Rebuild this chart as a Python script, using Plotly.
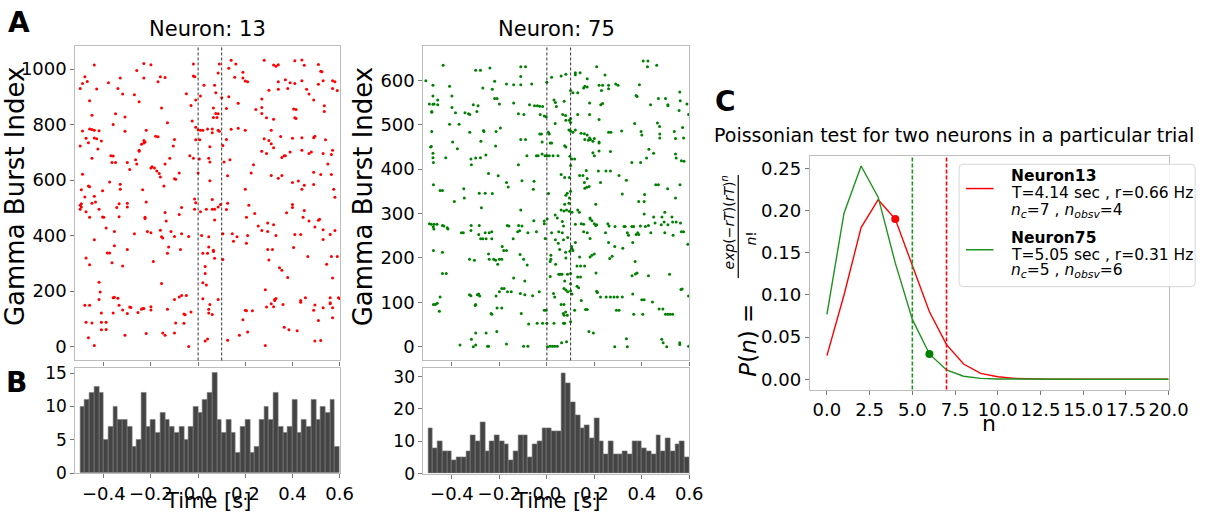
import plotly.graph_objects as go

W, H = 1224, 521
FONT = "DejaVu Sans"

# ---------------- Panel A: gamma-burst-locked spike rasters (time [s], burst index) ----------------
neuron13_spikes = [
    (-0.44,1015),(-0.23,1020),(-0.20,1016),(-0.26,995),(-0.02,1018),(0.09,1018),(0.14,1032),(0.16,1018),
    (0.28,1032),(0.32,1015),(0.33,1010),(0.34,1016),(0.41,1030),(0.44,1033),(0.45,1014),(0.51,1017),
    (0.52,992),(0.525,990),(0.13,1003),(0.085,986),(0.19,989),(-0.48,972),(-0.33,968),(-0.23,968),
    (-0.16,972),(-0.14,970),(-0.02,975),(-0.014,972),(0.155,971),(0.19,968),(0.20,957),(0.21,954),
    (0.37,962),(0.39,951),(0.41,948),(0.44,958),(0.53,958),(0.57,958),(0.58,954),(-0.47,955),
    (-0.49,948),(-0.38,951),(-0.17,954),(0.34,954),
    (-0.50,930),(-0.43,928),(-0.34,930),(0.025,942),(0.07,942),(0.075,915),(0.30,924),(0.34,927),
    (0.38,930),(0.46,927),(0.51,945),(0.57,930),(0.59,923),(-0.32,910),(-0.27,908),(-0.05,911),
    (0.01,903),(0.10,897),(0.13,900),(0.27,892),(0.47,910),(0.49,889),(-0.46,886),(-0.25,882),
    (-0.01,889),(0.17,877),(0.535,868),(0.535,847),(-0.155,860),(-0.03,869),(0.065,860),(0.12,858),
    (0.245,854),(0.27,862),(0.405,856),(0.415,854),(-0.35,839),(-0.45,834),(-0.31,827),(-0.025,813),
    (0.075,840),(0.085,839),(0.065,826),(0.08,826),(0.27,840),(0.29,825),(0.32,819),(0.41,825),
    (0.415,822),(-0.36,800),(-0.01,790),(-0.13,807),
    (-0.49,777),(-0.44,780),(-0.46,784),(-0.45,782),(-0.42,778),(-0.31,776),(-0.22,780),(0.0,781),
    (0.01,780),(0.02,780),(0.04,784),(0.06,784),(0.06,771),(0.085,780),(0.09,776),(0.14,783),
    (0.17,787),(0.20,780),(0.31,780),(-0.475,751),(-0.44,752),(-0.43,749),(-0.41,741),(-0.18,758),
    (-0.17,756),(-0.10,746),(0.12,746),(0.28,749),(0.35,757),(0.40,751),(0.44,753),(0.49,753),
    (0.495,758),(0.54,745),(-0.01,745),(0.007,745),(-0.50,723),(-0.465,735),(-0.425,712),(-0.23,743),
    (-0.225,737),(-0.23,734),(-0.24,729),(-0.25,708),(-0.105,723),(0.05,720),(0.105,725),(0.30,743),
    (0.31,731),(0.27,704),(0.29,696),(0.32,717),(0.39,701),(0.44,708),(0.47,696),(0.48,701),
    (0.53,696),(0.57,708),(0.365,688),(-0.37,688),(-0.36,687),(-0.035,688),(-0.02,679),(0.005,676),
    (-0.45,679),(-0.25,704),
    (-0.365,663),(-0.35,663),(-0.30,663),(-0.265,673),(-0.26,658),(-0.12,679),(0.045,679),(0.05,665),
    (0.11,665),(0.135,673),(0.37,688),(0.355,681),(0.565,692),(0.55,658),(0.235,655),(-0.49,621),
    (-0.29,638),(-0.20,644),(-0.195,648),(-0.185,644),(-0.175,633),(-0.165,624),(-0.16,611),(-0.145,579),
    (-0.14,658),(-0.08,626),(-0.10,605),(-0.095,603),(0.0,626),(0.05,598),(0.125,616),(0.225,626),
    (0.31,617),(0.34,607),(0.355,617),(0.40,591),(0.425,597),(0.44,567),(0.45,581),(0.49,628),
    (0.49,584),(0.52,620),(0.565,620),(0.58,538),(0.575,567),(-0.495,565),(-0.465,579),(-0.46,576),
    (-0.405,562),(-0.375,593),(-0.33,585),(-0.33,567),(-0.235,565),(0.20,567),
    (-0.48,539),(-0.44,542),(-0.435,521),(-0.45,517),(-0.495,515),(-0.50,509),(-0.495,503),(-0.50,495),
    (-0.42,495),(-0.475,486),(-0.46,466),(-0.405,467),(-0.40,466),(-0.39,427),(-0.355,415),(-0.335,515),
    (-0.345,501),(-0.335,468),(-0.30,517),(-0.30,503),(-0.22,521),(-0.225,466),(-0.225,462),(-0.14,483),
    (-0.135,453),(-0.08,476),(-0.07,501),(-0.015,532),(-0.015,495),(-0.01,518),(0.01,486),(0.035,495),
    (0.06,495),(0.06,530),(0.07,456),(0.07,495),(0.085,503),(0.095,512),(0.12,494),(0.125,517),
    (0.215,509),(0.205,466),(0.24,480),(0.255,435),(0.27,418),(0.295,445),(0.32,439),(0.375,482),
    (0.40,512),(0.40,501),(0.445,466),(0.45,490),(0.47,453),(0.51,455),(0.515,459),(0.56,404),
    (0.58,418),(0.495,431),(0.53,421),(0.53,386),(0.435,404),(0.41,404),(-0.27,407),(-0.215,415),
    (-0.20,410),(-0.16,419),(-0.155,396),(-0.15,391),(-0.115,415),(-0.10,397),(-0.07,407),(-0.04,397),
    (0.015,400),(0.045,396),(0.105,407),(0.145,407),(0.15,380),(0.165,396),(0.21,400),(0.33,400),
    (0.295,415),
    (-0.44,385),(-0.355,363),(-0.385,337),(-0.375,337),(-0.365,302),(-0.32,290),(-0.30,350),(-0.19,307),
    (-0.125,359),(-0.13,336),(-0.075,350),(-0.475,319),(-0.46,295),(0.02,336),(0.03,289),(0.045,359),
    (0.065,347),(0.065,343),(0.04,336),(0.07,318),(0.105,314),(0.03,263),(0.205,372),(0.295,350),
    (0.315,350),(0.345,284),(0.355,275),(0.38,249),(0.405,357),(0.465,325),(0.545,297),(0.565,325),
    (0.59,325),(0.57,247),(0.30,312),
    (-0.42,232),(-0.415,197),(-0.42,170),(-0.48,149),(-0.46,149),(-0.41,121),(-0.355,178),(-0.36,176),
    (-0.34,174),(-0.29,143),(-0.285,141),(-0.335,149),(-0.36,121),(-0.32,132),(-0.30,119),(-0.255,123),
    (-0.24,135),(-0.235,137),(-0.23,137),(-0.20,144),(-0.20,132),(-0.155,227),(-0.13,135),(-0.10,170),
    (-0.08,179),(-0.07,184),(-0.05,184),(-0.06,117),(-0.055,115),(-0.03,125),(0.02,230),(0.035,222),
    (0.02,172),(0.05,152),(0.045,135),(0.045,121),(0.06,116),(0.085,170),(0.20,131),(0.205,129),
    (0.23,129),(0.285,205),(0.29,143),(0.31,154),(0.32,144),(0.325,170),(0.33,173),(0.325,166),
    (0.36,152),(0.435,166),(0.435,160),(0.455,176),(0.49,131),(0.495,150),(0.53,140),(0.56,176),
    (0.56,158),(0.56,154),(0.57,140),(0.595,176),(0.60,173),
    (-0.475,88),(-0.45,85),(-0.41,88),(-0.39,88),(-0.41,61),(-0.39,62),(-0.465,32),(-0.44,4),
    (-0.31,41),(-0.22,47),(-0.15,49),(-0.14,41),(-0.10,49),(-0.095,85),(-0.06,84),(-0.04,0),
    (0.03,20),(0.04,27),(0.125,23),(0.19,97),(0.175,41),(0.21,53),(0.285,4),(0.365,70),
    (0.385,61),(0.42,57),(0.495,20),(0.52,22),(0.51,94),(0.57,104),
]

neuron75_spikes = [
    (-0.437,634),(0.406,644),(0.426,644),(0.424,631),(0.463,634),(-0.30,623),(-0.28,623),(-0.24,628),
    (-0.11,631),(-0.09,631),(-0.11,609),(0.21,631),(0.245,612),(0.02,607),(0.06,610),(0.08,614),
    (0.12,617),(0.14,617),(0.12,613),(0.17,604),(-0.51,599),(-0.48,589),(-0.41,587),(-0.22,598),
    (-0.17,592),(-0.14,590),(-0.11,590),(-0.064,592),(0.0,596),(0.16,587),(0.155,583),(0.17,585),
    (0.22,589),(0.235,589),(0.26,589),(0.26,581),(0.23,577),(0.29,592),(0.30,589),(0.39,590),
    (-0.48,565),(-0.40,565),(-0.27,583),(-0.23,580),(-0.22,559),(-0.21,559),(0.10,577),(0.11,572),
    (0.13,572),(0.56,574),(0.38,564),(0.47,559),(0.50,559),
    (-0.495,547),(-0.48,546),(-0.475,547),(-0.46,556),(-0.46,545),(-0.485,530),(-0.485,528),(-0.40,539),
    (-0.385,527),(-0.345,527),(-0.33,525),(-0.325,523),(-0.31,545),(-0.29,543),(-0.295,530),(-0.20,547),
    (-0.14,549),(-0.12,525),(-0.097,523),(-0.073,545),(-0.052,543),(-0.04,543),(-0.03,542),(-0.018,541),
    (-0.028,523),(-0.011,520),(-0.003,518),(0.03,556),(0.036,550),(0.04,541),(0.073,553),(0.067,523),
    (0.079,521),(0.08,510),(0.095,510),(0.10,514),(0.10,505),(0.13,523),(0.18,549),(0.18,523),
    (0.22,512),(0.227,545),(0.235,548),(0.376,566),(0.37,503),(0.437,545),(0.51,545),(0.51,543),
    (0.59,547),(0.557,532),(0.562,554),(0.597,523),(0.466,504),(-0.41,501),(-0.37,501),(-0.485,485),
    (-0.325,483),(-0.267,487),(-0.265,485),(-0.214,485),(-0.196,493),(-0.09,467),(-0.11,467),(-0.03,479),
    (-0.023,479),(0.006,483),(0.01,479),(0.035,503),(0.093,488),(0.10,486),(0.11,483),(0.12,488),
    (0.144,481),(0.158,480),(0.17,477),(0.18,470),(0.20,469),(0.16,467),(0.175,465),(0.184,467),
    (0.194,463),(0.22,459),(0.26,483),(0.27,483),(0.315,486),(0.397,485),(0.40,477),(0.475,496),
    (0.476,479),(0.476,470),(0.537,485),(0.542,469),(0.572,494),(0.576,470),
    (-0.49,450),(-0.487,451),(-0.397,461),(-0.377,446),(-0.278,463),(-0.216,452),(-0.02,461),(0.014,459),
    (0.02,459),(0.075,453),(0.08,450),(0.22,461),(0.43,445),(-0.48,436),(-0.48,426),(-0.478,415),
    (-0.426,426),(-0.32,423),(-0.318,410),(-0.30,425),(-0.28,426),(-0.257,432),(-0.12,410),(-0.084,430),
    (-0.044,430),(-0.037,430),(-0.02,434),(-0.008,430),(0.0,430),(0.01,430),(0.026,430),(0.047,430),
    (0.097,429),(0.105,423),(0.117,423),(0.10,408),(0.194,437),(0.20,430),(0.22,441),(0.268,440),
    (0.358,415),(0.395,415),(0.42,425),(0.45,436),(0.542,434),(0.545,425),(0.578,418),(-0.478,365),
    (-0.45,352),(-0.44,352),(-0.246,390),(-0.205,385),(-0.17,370),(-0.163,360),(-0.105,374),(-0.054,373),
    (-0.057,355),(0.06,388),(0.075,381),(0.095,381),(0.166,397),(0.138,386),(0.152,386),(0.17,379),
    (0.158,370),(0.168,359),(0.16,357),(0.178,361),(0.217,396),(0.226,370),(0.249,396),(0.268,396),
    (0.304,386),(0.335,375),(0.459,365),(0.47,365),(0.509,356),(0.561,365),(0.567,419),
    (-0.39,327),(-0.35,356),(-0.348,335),(-0.285,346),(-0.26,346),(-0.23,345),(-0.276,313),(-0.11,308),
    (0.007,345),(0.08,341),(0.086,346),(0.095,335),(0.10,350),(0.093,323),(0.075,321),(0.083,308),
    (0.06,308),(0.072,306),(0.095,305),(0.106,303),(0.13,308),(0.137,303),(0.206,321),(0.318,344),
    (0.387,327),(0.41,327),(0.412,343),(0.542,335),(0.497,303),(0.41,299),(0.45,292),(0.485,292),
    (0.527,292),(0.035,297),(0.044,290),(0.001,288),(-0.011,283),(0.182,290),(0.19,284),(-0.495,277),
    (-0.487,276),(-0.475,276),(-0.479,270),(-0.463,276),(-0.44,273),(-0.434,272),(-0.42,268),(-0.319,273),
    (-0.285,273),(-0.167,273),(-0.16,272),(-0.119,273),(-0.105,272),(-0.055,284),(-0.011,277),(0.065,282),
    (0.07,272),(0.12,276),(0.145,277),(0.155,276),(0.182,288),(0.20,277),(0.206,273),(0.21,275),
    (0.257,277),(0.262,272),(0.287,271),(0.325,271),(0.33,271),(0.358,271),(0.366,271),(0.394,272),
    (0.415,271),(0.428,273),(0.456,279),(0.482,275),(0.494,281),(0.51,275),(0.53,281),(0.545,281),
    (0.563,279),(0.567,259),(0.576,259),
    (-0.476,265),(-0.417,265),(-0.36,257),(-0.352,257),(-0.32,262),(-0.287,253),(-0.26,257),(-0.243,257),
    (-0.232,259),(-0.279,243),(-0.27,243),(-0.256,243),(-0.232,243),(-0.142,243),(-0.123,259),(-0.115,261),
    (-0.08,257),(-0.044,259),(0.02,257),(0.036,241),(-0.007,244),(0.05,259),(0.065,257),(0.07,241),
    (0.048,233),(0.088,246),(0.104,226),(0.11,217),(0.106,221),(0.12,235),(0.155,259),(0.17,257),
    (0.182,244),(0.247,257),(0.26,235),(0.286,226),(0.32,222),(0.339,257),(0.344,251),(0.376,253),
    (0.383,257),(0.387,253),(0.438,257),(0.497,257),(0.532,251),(0.594,231),(0.362,235),(-0.478,217),
    (-0.44,213),(-0.182,217),(-0.17,217),(-0.188,226),(-0.246,209),(0.017,206),(0.054,219),(0.079,213),
    (0.097,215),
    (-0.326,197),(-0.305,195),(-0.243,197),(-0.224,197),(-0.216,195),(-0.20,197),(-0.207,186),(-0.19,197),
    (-0.113,208),(-0.098,197),(-0.083,184),(0.017,197),(0.014,192),(0.037,186),(0.08,200),(0.127,182),
    (0.142,182),(0.159,182),(0.138,202),(0.182,202),(0.19,206),(0.20,209),(0.265,199),(0.275,204),
    (0.372,192),(-0.44,165),(-0.424,165),(-0.14,155),(-0.093,148),(0.014,158),(0.05,163),(0.056,163),
    (0.064,163),(0.087,163),(0.10,165),(0.075,148),(0.10,142),(0.13,157),(0.142,157),(0.127,136),
    (0.207,166),(0.359,160),(0.373,164),(0.38,166),(0.428,160),(0.517,163),(-0.326,117),(-0.32,115),
    (-0.293,117),(-0.287,119),(-0.302,93),(-0.283,114),(-0.214,114),(-0.20,124),(-0.19,131),(-0.18,131),
    (-0.166,124),(-0.15,124),(-0.112,120),(-0.093,117),(-0.06,115),(-0.032,124),(0.028,120),(0.033,112),
    (0.072,131),(0.08,128),(0.088,124),(0.10,126),(0.106,119),(0.145,104),(0.134,133),(0.21,125),
    (0.213,122),(0.226,112),(0.25,112),(0.268,112),(0.283,112),(0.297,112),(0.318,112),(0.362,119),
    (0.40,106),(0.41,106),(0.445,101),(0.57,130),(0.597,114),
    (-0.478,95),(-0.47,95),(-0.462,98),(-0.453,80),(-0.45,112),(-0.30,95),(-0.235,75),(-0.232,73),
    (-0.21,87),(-0.19,87),(-0.108,75),(-0.041,53),(-0.018,53),(-0.011,82),(-0.003,82),(0.0,53),
    (0.03,53),(0.06,95),(0.072,95),(0.069,75),(0.079,78),(0.073,71),(0.07,53),(0.075,53),
    (0.086,71),(0.10,56),(0.117,82),(0.163,84),(0.17,84),(0.293,82),(0.304,82),(0.366,73),
    (0.404,73),(0.473,85),(0.489,85),(0.50,73),(0.51,73),(0.52,73),(0.53,73),(0.565,129),
    (-0.077,51),(0.177,34),(0.196,31),(-0.318,17),(-0.30,31),(-0.30,4),(-0.31,0),(-0.256,31),
    (-0.25,1),(-0.246,1),(-0.211,34),(-0.17,6),(-0.366,4),(-0.098,1),(-0.08,1),(0.014,1),
    (0.024,1),(0.033,1),(0.044,1),(0.062,9),(0.083,11),(0.286,0),(0.335,18),(0.339,0),
    (0.484,17),(0.49,9),(0.505,0),(0.56,9),(0.56,5),(0.597,1),(0.003,0),
]

# ---------------- Panel B: peri-burst spike counts (20 ms bins from -0.5 s to 0.6 s) ----------------
bin_start, bin_width = -0.5, 0.02
counts13 = [10, 11, 12, 13, 12, 5, 7, 10, 8, 8, 7, 4, 5, 12, 7, 8, 6, 9, 8, 7, 6, 7, 5, 7, 10,
            9, 11, 12, 15, 8, 6, 8, 6, 3, 7, 8, 3, 4, 8, 10, 8, 12, 7, 6, 7, 11, 6, 8, 7, 11,
            8, 10, 9, 11, 4]
counts75 = [14, 8, 10, 7, 7, 4, 5, 5, 7, 12, 10, 16, 7, 10, 12, 10, 9, 4, 7, 12, 12, 5, 9, 10, 14,
            14, 13, 13, 31, 28, 22, 18, 14, 15, 11, 17, 10, 6, 10, 6, 6, 7, 6, 10, 10, 8, 7, 6, 12, 7,
            11, 7, 9, 10, 5]
bin_centers = [bin_start + bin_width * (i + 0.5) for i in range(len(counts13))]

# stimulus-window markers on the rasters [s]
window_edges = [0.0, 0.1]

# ---------------- Panel C: Poisson probabilities P(n) ----------------
n_values = list(range(21))
p_neuron13 = [0.028, 0.100, 0.180, 0.213, 0.190, 0.135, 0.080, 0.041, 0.018, 0.007, 0.003,
              0.001, 0.0003, 0.0001, 0, 0, 0, 0, 0, 0, 0]
p_neuron75 = [0.077, 0.197, 0.253, 0.216, 0.138, 0.071, 0.030, 0.011, 0.0035, 0.001, 0.0003,
              0.0001, 0, 0, 0, 0, 0, 0, 0, 0, 0]
nc13, nobs13 = 7, 4
nc75, nobs75 = 5, 6
legend_lines13 = ["<b>Neuron13</b>", "T=4.14 sec , r=0.66 Hz",
                  "<i>n</i><sub><i>c</i></sub>=7 , <i>n</i><sub><i>obsv</i></sub>=4"]
legend_lines75 = ["<b>Neuron75</b>", "T=5.05 sec , r=0.31 Hz",
                  "<i>n</i><sub><i>c</i></sub>=5 , <i>n</i><sub><i>obsv</i></sub>=6"]

RED = "#ff0000"
GREEN = "#008000"
LINE_GREEN = "#1f921f"
FRAME = "#bdbdbd"
TICKC = "#777777"


def px(x):
    return x / W


def py(y):
    return 1 - y / H


fig = go.Figure()

# rasters
for spikes, color, xa, ya in [(neuron13_spikes, RED, "x", "y"), (neuron75_spikes, GREEN, "x3", "y3")]:
    fig.add_trace(go.Scatter(
        x=[s[0] for s in spikes], y=[s[1] for s in spikes], mode="markers",
        marker=dict(color=color, size=3.0, line=dict(width=0)),
        xaxis=xa, yaxis=ya, showlegend=False, hoverinfo="skip"))

# histograms
for counts, xa, ya in [(counts13, "x2", "y2"), (counts75, "x4", "y4")]:
    fig.add_trace(go.Bar(
        x=bin_centers, y=counts, width=bin_width,
        marker=dict(color="#444444", line=dict(color="#7a7a7a", width=0.6)),
        xaxis=xa, yaxis=ya, showlegend=False, hoverinfo="skip"))

# Poisson curves
fig.add_trace(go.Scatter(x=n_values, y=p_neuron13, mode="lines", line=dict(color=RED, width=1.4),
                         xaxis="x5", yaxis="y5", showlegend=False))
fig.add_trace(go.Scatter(x=n_values, y=p_neuron75, mode="lines", line=dict(color=LINE_GREEN, width=1.4),
                         xaxis="x5", yaxis="y5", showlegend=False))
# observed counts
fig.add_trace(go.Scatter(x=[nobs13], y=[p_neuron13[nobs13]], mode="markers",
                         marker=dict(color=RED, size=8), xaxis="x5", yaxis="y5", showlegend=False))
fig.add_trace(go.Scatter(x=[nobs75], y=[p_neuron75[nobs75]], mode="markers",
                         marker=dict(color=GREEN, size=8), xaxis="x5", yaxis="y5", showlegend=False))

shapes = []
for xa, ya in [("x", "y"), ("x3", "y3")]:
    for t in window_edges:
        shapes.append(dict(type="line", xref=xa, yref=f"{ya} domain", x0=t, x1=t, y0=0, y1=1,
                           line=dict(color="#333333", width=1, dash="3px,2px")))
shapes.append(dict(type="line", xref="x5", yref="y5 domain", x0=nc75, x1=nc75, y0=0, y1=1,
                   line=dict(color=LINE_GREEN, width=1.6, dash="4px,2px")))
shapes.append(dict(type="line", xref="x5", yref="y5 domain", x0=nc13, x1=nc13, y0=0, y1=1,
                   line=dict(color=RED, width=1.6, dash="4px,2px")))
# fraction bar of the P(n) axis label
shapes.append(dict(type="line", xref="paper", yref="paper", x0=px(750.5), x1=px(750.5),
                   y0=py(281), y1=py(175), line=dict(color="black", width=1.2)))

# legend box (rounded) with line keys
lx0, lx1, ly0, ly1, r = 975, 1215, 164, 290, 4
box_path = (f"M {px(lx0 + r)},{py(ly0)} L {px(lx1 - r)},{py(ly0)} Q {px(lx1)},{py(ly0)} {px(lx1)},{py(ly0 + r)} "
            f"L {px(lx1)},{py(ly1 - r)} Q {px(lx1)},{py(ly1)} {px(lx1 - r)},{py(ly1)} "
            f"L {px(lx0 + r)},{py(ly1)} Q {px(lx0)},{py(ly1)} {px(lx0)},{py(ly1 - r)} "
            f"L {px(lx0)},{py(ly0 + r)} Q {px(lx0)},{py(ly0)} {px(lx0 + r)},{py(ly0)} Z")
shapes.append(dict(type="path", path=box_path, xref="paper", yref="paper", layer="above",
                   fillcolor="rgba(255,255,255,0.85)", line=dict(color="#d6d6d6", width=1)))
shapes.append(dict(type="line", xref="paper", yref="paper", x0=px(982), x1=px(1010), y0=py(189), y1=py(189),
                   layer="above", line=dict(color=RED, width=1.5)))
shapes.append(dict(type="line", xref="paper", yref="paper", x0=px(982), x1=px(1010), y0=py(252), y1=py(252),
                   layer="above", line=dict(color=LINE_GREEN, width=1.5)))


def axis_common(**kw):
    d = dict(showline=True, mirror=True, linecolor=FRAME, linewidth=1.2, showgrid=False,
             zeroline=False, ticks="outside", ticklen=4, tickwidth=1, tickcolor=TICKC,
             tickfont=dict(family=FONT, size=18, color="black"))
    d.update(kw)
    return d


t_ticks = [-0.4, -0.2, 0.0, 0.2, 0.4, 0.6]
t_text = ["\u22120.4", "\u22120.2", "0.0", "0.2", "0.4", "0.6"]

layout = dict(
    width=W, height=H, margin=dict(l=0, r=0, t=0, b=0, pad=0), autosize=False,
    paper_bgcolor="white", plot_bgcolor="white",
    font=dict(family=FONT, color="black"),
    bargap=0, shapes=shapes, showlegend=False,
    xaxis=axis_common(domain=[px(76.7), px(346)], range=[-0.52, 0.603], tickvals=t_ticks,
                      showticklabels=False, anchor="y"),
    yaxis=axis_common(domain=[py(366), py(42)], range=[-50, 1084], tickvals=[0, 200, 400, 600, 800, 1000],
                      anchor="x"),
    xaxis2=axis_common(domain=[px(76.7), px(346)], range=[-0.52, 0.603], tickvals=t_ticks, ticktext=t_text,
                       anchor="y2", ticklabelstandoff=0),
    yaxis2=axis_common(domain=[py(482), py(373.5)], range=[0, 15.8], tickvals=[0, 5, 10, 15],
                       anchor="x2", tickfont=dict(family=FONT, size=17)),
    xaxis3=axis_common(domain=[px(430.5), px(700.7)], range=[-0.52, 0.6], tickvals=t_ticks,
                       showticklabels=False, anchor="y3"),
    yaxis3=axis_common(domain=[py(366), py(42)], range=[-31, 678], tickvals=[0, 100, 200, 300, 400, 500, 600],
                       anchor="x3"),
    xaxis4=axis_common(domain=[px(430.5), px(700.7)], range=[-0.52, 0.6], tickvals=t_ticks, ticktext=t_text,
                       anchor="y4", ticklabelstandoff=0),
    yaxis4=axis_common(domain=[py(482.5), py(374)], range=[0, 32.6], tickvals=[0, 10, 20, 30],
                       anchor="x4", tickfont=dict(family=FONT, size=17)),
    xaxis5=axis_common(domain=[px(823.3), px(1188)], range=[-1.0, 20.0],
                       tickvals=[0, 2.5, 5, 7.5, 10, 12.5, 15, 17.5, 20], tickformat=".1f", anchor="y5"),
    yaxis5=axis_common(domain=[py(396), py(155)], range=[-0.0123, 0.2654],
                       tickvals=[0, 0.05, 0.10, 0.15, 0.20, 0.25], tickformat=".2f", anchor="x5"),
)

ann = []


def text(x, y, s, size, angle=0, bold=False, xanchor="center", yanchor="middle"):
    ann.append(dict(x=px(x), y=py(y), xref="paper", yref="paper", text=f"<b>{s}</b>" if bold else s,
                    showarrow=False, textangle=angle, xanchor=xanchor, yanchor=yanchor,
                    font=dict(family=FONT, size=size, color="black")))


text(19, 18, "A", 28, bold=True)
text(17, 389, "B", 28, bold=True)
text(738, 99, "C", 28, bold=True)
text(211, 25, "Neuron: 13", 21)
text(566, 25, "Neuron: 75", 21)
text(16, 197, "Gamma Burst Index", 26, angle=-90)
text(369, 197, "Gamma Burst Index", 26, angle=-90)
text(211, 525, "Time [s]", 21, yanchor="bottom")
text(566, 525, "Time [s]", 21, yanchor="bottom")
text(970, 134, "Poissonian test for two neurons in a particular trial", 19)
text(1005, 431, "n", 22)
text(761, 345, "<i>P</i>(<i>n</i>) =", 23, angle=-90)
text(740, 224, "<i>exp</i>(\u2212<i>rT</i>)(<i>rT</i>)<sup><i>n</i></sup>", 14, angle=-90)
text(764, 240, "<i>n</i>!", 14, angle=-90)
for i, s in enumerate(legend_lines13):
    text(1026, 176 + 18 * i, s, 15.5, xanchor="left")
for i, s in enumerate(legend_lines75):
    text(1026, 240 + 17 * i, s, 15.5, xanchor="left")
layout["annotations"] = ann

fig.update_layout(**layout)
fig.write_html("out.html")
